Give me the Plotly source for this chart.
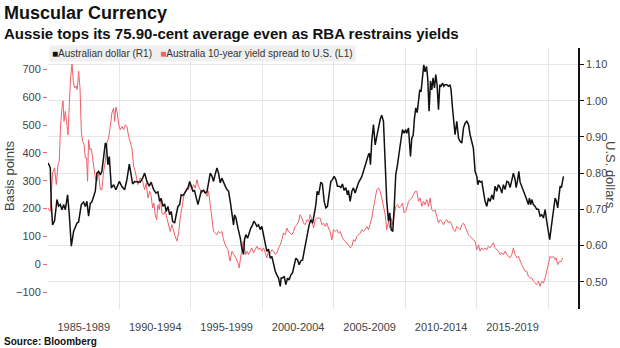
import plotly.graph_objects as go

# Australian dollar (US$), right axis
aud_years = [1985.02,1985.16,1985.23,1985.32,1985.46,1985.63,1985.74,1985.86,1985.98,1986.09,1986.21,1986.37,1986.49,1986.63,1986.79,
             1987.03,1987.14,1987.33,1987.49,1987.61,1987.72,1987.84,1987.96,1988.07,1988.31,1988.42,1988.54,1988.66,1988.77,1988.89,
             1989.01,1989.08,1989.19,1989.29,1989.43,1989.59,1989.75,1989.99,1990.17,1990.36,1990.52,1990.69,1990.83,1990.92,1991.06,
             1991.29,1991.45,1991.62,1991.76,1991.92,1992.08,1992.22,1992.39,1992.55,1992.69,1992.81,1992.92,1993.04,1993.16,1993.27,
             1993.39,1993.51,1993.62,1993.72,1993.86,1993.97,1994.09,1994.21,1994.32,1994.44,1994.55,1994.67,1994.79,1994.91,1995.02,
             1995.14,1995.25,1995.37,1995.49,1995.60,1995.72,1995.88,1996.00,1996.12,1996.23,1996.35,1996.47,1996.58,1996.70,1996.82,
             1996.93,1997.05,1997.16,1997.28,1997.40,1997.51,1997.63,1997.75,1997.87,1997.98,1998.05,1998.15,1998.29,1998.45,1998.56,
             1998.68,1998.75,1998.84,1998.96,1999.08,1999.19,1999.31,1999.40,1999.50,1999.61,1999.73,1999.85,1999.96,2000.08,2000.20,
             2000.31,2000.43,2000.55,2000.66,2000.78,2000.90,2001.01,2001.13,2001.25,2001.31,2001.41,2001.53,2001.64,2001.76,2001.87,
             2001.99,2002.11,2002.22,2002.34,2002.46,2002.57,2002.69,2002.81,2002.92,2003.04,2003.16,2003.27,2003.39,2003.51,2003.62,
             2003.74,2003.83,2003.93,2004.09,2004.20,2004.32,2004.44,2004.55,2004.67,2004.79,2004.90,2005.02,2005.14,2005.25,2005.37,
             2005.49,2005.60,2005.72,2005.84,2005.95,2006.02,2006.14,2006.26,2006.37,2006.49,2006.61,2006.72,2006.84,2006.96,2007.07,
             2007.19,2007.31,2007.42,2007.49,2007.56,2007.65,2007.77,2007.89,2008.00,2008.12,2008.24,2008.35,2008.47,2008.59,2008.70,
             2008.82,2008.91,2009.01,2009.12,2009.22,2009.33,2009.45,2009.57,2009.68,2009.80,2009.92,2010.03,2010.10,2010.22,2010.29,
             2010.36,2010.45,2010.55,2010.64,2010.73,2010.83,2010.92,2011.01,2011.10,2011.20,2011.29,2011.38,2011.48,2011.57,2011.66,
             2011.76,2011.85,2011.94,2012.04,2012.13,2012.22,2012.32,2012.41,2012.50,2012.60,2012.69,2012.78,2012.90,2013.02,2013.13,
             2013.20,2013.30,2013.39,2013.48,2013.60,2013.72,2013.83,2013.95,2014.07,2014.18,2014.30,2014.42,2014.53,2014.65,2014.76,
             2014.88,2015.00,2015.07,2015.16,2015.25,2015.35,2015.46,2015.58,2015.70,2015.81,2015.93,2016.05,2016.16,2016.28,2016.40,
             2016.51,2016.63,2016.75,2016.86,2016.98,2017.10,2017.21,2017.33,2017.45,2017.56,2017.68,2017.75,2017.84,2017.94,2018.03,
             2018.14,2018.26,2018.38,2018.49,2018.61,2018.68,2018.77,2018.84,2018.96,2019.08,2019.19,2019.31,2019.43,2019.54,2019.66,
             2019.78,2019.89,2020.01,2020.10,2020.20,2020.29,2020.38,2020.48,2020.57,2020.66,2020.76,2020.83,2020.92,2020.99,2021.06]
aud_values = [0.828,0.814,0.713,0.657,0.668,0.727,0.709,0.713,0.699,0.713,0.699,0.740,0.685,0.598,0.639,
              0.662,0.665,0.713,0.720,0.708,0.722,0.681,0.717,0.720,0.750,0.800,0.805,0.795,0.805,0.842,
              0.883,0.880,0.823,0.846,0.759,0.768,0.754,0.777,0.763,0.754,0.782,0.825,0.796,0.770,0.777,
              0.777,0.775,0.786,0.800,0.777,0.764,0.775,0.754,0.745,0.748,0.722,0.730,0.708,0.715,0.694,
              0.708,0.685,0.694,0.667,0.662,0.685,0.708,0.713,0.740,0.738,0.745,0.750,0.759,0.777,0.764,
              0.750,0.752,0.731,0.713,0.731,0.750,0.752,0.745,0.748,0.773,0.800,0.792,0.777,0.797,0.814,
              0.800,0.773,0.786,0.777,0.764,0.755,0.750,0.722,0.685,0.657,0.685,0.676,0.648,0.621,0.593,
              0.575,0.616,0.630,0.620,0.639,0.648,0.657,0.667,0.662,0.653,0.657,0.644,0.653,0.630,0.607,
              0.584,0.590,0.565,0.570,0.547,0.529,0.519,0.510,0.487,0.510,0.510,0.515,0.492,0.510,0.505,
              0.519,0.525,0.543,0.565,0.560,0.547,0.558,0.560,0.584,0.607,0.639,0.657,0.671,0.662,0.685,
              0.713,0.750,0.740,0.775,0.770,0.722,0.704,0.708,0.750,0.777,0.782,0.791,0.782,0.764,0.764,
              0.760,0.770,0.752,0.760,0.740,0.752,0.722,0.750,0.759,0.745,0.764,0.773,0.782,0.791,0.805,
              0.823,0.837,0.851,0.855,0.823,0.888,0.934,0.878,0.906,0.925,0.948,0.960,0.943,0.842,0.722,
              0.667,0.690,0.644,0.639,0.704,0.796,0.823,0.851,0.888,0.920,0.910,0.920,0.910,0.925,0.869,
              0.846,0.896,0.905,0.952,0.980,0.967,1.007,1.030,1.025,1.072,1.099,1.080,1.095,1.060,0.971,
              1.054,1.030,1.063,1.035,1.072,1.044,0.975,1.044,1.040,1.049,1.040,1.044,1.044,1.040,1.044,
              1.030,0.980,0.934,0.906,0.943,0.897,0.888,0.883,0.925,0.938,0.943,0.934,0.906,0.883,0.869,
              0.805,0.791,0.768,0.780,0.775,0.777,0.750,0.722,0.708,0.731,0.722,0.740,0.727,0.764,0.750,
              0.768,0.760,0.745,0.768,0.755,0.777,0.775,0.760,0.786,0.800,0.782,0.760,0.777,0.805,0.775,
              0.764,0.755,0.740,0.727,0.713,0.731,0.713,0.727,0.713,0.708,0.700,0.700,0.681,0.685,0.676,
              0.699,0.667,0.639,0.616,0.648,0.676,0.694,0.731,0.722,0.704,0.740,0.764,0.760,0.777,0.791]

# Australia 10-year yield spread to U.S. (bp), left axis
spread_years = [1985.00,1985.16,1985.32,1985.46,1985.58,1985.70,1985.79,1985.88,1985.98,1986.05,1986.12,1986.21,1986.30,1986.40,1986.49,
                1986.58,1986.68,1986.77,1986.86,1986.96,1987.05,1987.14,1987.24,1987.33,1987.42,1987.52,1987.61,1987.70,1987.77,1987.84,
                1987.93,1988.03,1988.12,1988.21,1988.31,1988.42,1988.54,1988.66,1988.77,1988.89,1989.01,1989.12,1989.24,1989.36,1989.47,
                1989.59,1989.66,1989.75,1989.85,1989.94,1990.06,1990.17,1990.29,1990.41,1990.52,1990.64,1990.76,1990.87,1990.99,1991.10,
                1991.29,1991.45,1991.62,1991.76,1991.87,1991.99,1992.11,1992.22,1992.32,1992.41,1992.50,1992.60,1992.69,1992.78,1992.88,
                1992.97,1993.09,1993.20,1993.32,1993.44,1993.55,1993.67,1993.79,1993.90,1994.02,1994.14,1994.25,1994.37,1994.48,1994.60,
                1994.72,1994.83,1994.95,1995.07,1995.18,1995.30,1995.42,1995.53,1995.65,1995.77,1995.88,1996.00,1996.12,1996.23,1996.35,
                1996.47,1996.58,1996.70,1996.82,1996.93,1997.05,1997.17,1997.28,1997.40,1997.59,1997.73,1997.87,1998.00,1998.15,1998.29,
                1998.38,1998.47,1998.56,1998.66,1998.75,1998.84,1998.94,1999.03,1999.15,1999.26,1999.38,1999.50,1999.61,1999.73,1999.85,
                1999.96,2000.08,2000.20,2000.31,2000.43,2000.55,2000.66,2000.78,2000.90,2001.01,2001.13,2001.25,2001.36,2001.48,2001.60,
                2001.71,2001.83,2001.94,2002.06,2002.18,2002.29,2002.41,2002.53,2002.64,2002.76,2002.88,2002.99,2003.11,2003.23,2003.34,
                2003.46,2003.58,2003.69,2003.83,2004.04,2004.16,2004.28,2004.39,2004.51,2004.62,2004.74,2004.86,2004.97,2005.09,2005.21,
                2005.32,2005.44,2005.56,2005.67,2005.79,2005.91,2006.02,2006.14,2006.26,2006.37,2006.49,2006.61,2006.72,2006.84,2006.96,
                2007.07,2007.19,2007.31,2007.42,2007.54,2007.65,2007.77,2007.89,2008.00,2008.12,2008.24,2008.35,2008.47,2008.59,2008.70,
                2008.82,2008.91,2009.01,2009.10,2009.22,2009.33,2009.45,2009.57,2009.68,2009.80,2009.92,2010.03,2010.10,2010.22,2010.34,
                2010.45,2010.57,2010.69,2010.80,2010.92,2011.04,2011.15,2011.27,2011.38,2011.50,2011.62,2011.73,2011.85,2011.97,2012.08,
                2012.20,2012.32,2012.43,2012.55,2012.67,2012.78,2012.90,2013.02,2013.13,2013.25,2013.37,2013.48,2013.60,2013.72,2013.83,
                2013.95,2014.07,2014.18,2014.30,2014.42,2014.53,2014.65,2014.76,2014.88,2015.00,2015.12,2015.23,2015.35,2015.46,2015.58,
                2015.70,2015.81,2015.93,2016.05,2016.16,2016.28,2016.42,2016.51,2016.63,2016.75,2016.86,2016.98,2017.10,2017.21,2017.33,
                2017.45,2017.56,2017.68,2017.80,2017.91,2018.03,2018.14,2018.26,2018.38,2018.49,2018.61,2018.73,2018.84,2018.96,2019.08,
                2019.19,2019.31,2019.43,2019.54,2019.66,2019.78,2019.89,2020.01,2020.13,2020.24,2020.36,2020.48,2020.55,2020.66,2020.78,
                2020.90,2021.01]
spread_values = [202,190,328,346,286,358,370,501,561,587,513,549,513,465,573,
                 669,719,657,633,640,627,693,633,477,442,430,382,382,298,447,
                 411,415,382,340,310,298,328,268,268,334,370,436,453,495,543,
                 561,513,564,543,501,483,495,483,501,495,460,436,418,352,334,
                 286,310,298,268,292,238,262,244,202,220,178,160,214,196,238,
                 184,178,190,166,142,118,142,118,100,83,112,166,214,238,262,
                 274,268,292,268,286,274,304,280,268,256,268,262,244,262,214,
                 166,118,112,106,118,112,118,88,70,52,11,47,35,23,5,
                 -13,23,52,83,59,35,47,35,47,59,41,52,65,52,59,
                 47,59,41,23,47,41,52,47,35,41,59,70,88,112,106,
                 130,118,112,106,118,136,142,154,178,166,148,142,160,154,178,
                 160,130,160,166,166,142,148,136,148,130,118,88,124,118,124,
                 112,118,100,88,83,77,70,59,65,88,83,100,106,112,124,
                 118,124,136,124,142,166,202,238,268,274,262,238,208,178,124,
                 154,130,166,142,172,208,214,202,208,220,184,190,202,226,232,
                 238,250,262,262,226,238,208,226,214,232,208,238,196,190,196,
                 172,148,160,154,142,154,160,148,154,142,124,118,136,130,124,
                 142,148,136,118,106,100,94,88,83,52,70,47,59,52,59,
                 52,65,59,70,77,59,52,47,35,41,35,47,35,29,23,
                 35,59,35,23,29,11,-1,-13,-25,-25,-43,-49,-49,-61,-67,
                 -73,-61,-79,-61,-67,-49,-25,11,29,23,29,17,23,-1,11,
                 9,23]

period_centers = [1987.5, 1992.5, 1997.5, 2002.5, 2007.5, 2012.5, 2017.5]
period_labels = ["1985-1989", "1990-1994", "1995-1999", "2000-2004", "2005-2009", "2010-2014", "2015-2019"]
left_ticks = [-100, 0, 100, 200, 300, 400, 500, 600, 700]
right_ticks = [0.5, 0.6, 0.7, 0.8, 0.9, 1.0, 1.1]

RED = "#f0606a"
GRID = "#e6e6e6"
FONT = "Liberation Sans, Arial, sans-serif"

fig = go.Figure()
fig.add_trace(go.Scatter(x=spread_years, y=spread_values, mode="lines",
                         line=dict(color=RED, width=1), yaxis="y", showlegend=False))
fig.add_trace(go.Scatter(x=aud_years, y=aud_values, mode="lines",
                         line=dict(color="#111111", width=1.5), yaxis="y2", showlegend=False))

fig.update_layout(
    width=620, height=348,
    margin=dict(l=48, r=42, t=48, b=39),
    paper_bgcolor="white", plot_bgcolor="white",
    font=dict(family=FONT, size=11, color="#444444"),
    xaxis=dict(range=[1985.0, 2022.08], tickmode="array", tickvals=period_centers, ticktext=period_labels,
               showgrid=False, zeroline=False, showline=False, ticks="", ticklabelstandoff=10,
               tickfont=dict(size=11, color="#444444"),
               minor=dict(tick0=1985, dtick=5, showgrid=True, gridcolor=GRID, gridwidth=1, ticks="")),
    yaxis=dict(range=[-160.4, 776.4], tickmode="array", tickvals=left_ticks,
               showgrid=False, zeroline=False, showline=False,
               ticks="outside", ticklen=4, tickcolor=RED, tickwidth=1,
               tickfont=dict(size=11, color="#444444")),
    yaxis2=dict(range=[0.4246, 1.1456], overlaying="y", side="right", tickmode="array", tickvals=right_ticks,
                tickformat=".2f", showgrid=True, gridcolor=GRID, gridwidth=1, zeroline=False,
                showline=True, linecolor="#111111", linewidth=1.5,
                ticks="outside", ticklen=4, tickcolor="#111111", tickwidth=1,
                tickfont=dict(size=11, color="#444444")),
)

W, H = 530.0, 261.0
def px(x): return (x - 48) / W
def py(y): return (309 - y) / H

fig.add_annotation(x=px(2), y=py(13), xref="paper", yref="paper", xanchor="left", yanchor="middle",
                   text="<b>Muscular Currency</b>", showarrow=False,
                   font=dict(family=FONT, size=18, color="#111111"))
fig.add_annotation(x=px(2), y=py(33.5), xref="paper", yref="paper", xanchor="left", yanchor="middle",
                   text="<b>Aussie tops its 75.90-cent average even as RBA restrains yields</b>", showarrow=False,
                   font=dict(family=FONT, size=15, color="#111111"))
fig.add_annotation(x=px(49), y=py(53.5), xref="paper", yref="paper", xanchor="left", yanchor="middle",
                   text="<span style='color:#111111'>■</span>Australian dollar (R1)   "
                        f"<span style='color:{RED}'>■</span>Australia 10-year yield spread to U.S. (L1)",
                   showarrow=False, bgcolor="#efefef", borderpad=2,
                   font=dict(family=FONT, size=10, color="#333333"))
fig.add_annotation(x=px(9), y=py(176), xref="paper", yref="paper", xanchor="center", yanchor="middle",
                   text="Basis points", textangle=-90, showarrow=False,
                   font=dict(family=FONT, size=13, color="#444444"))
fig.add_annotation(x=px(611), y=py(175), xref="paper", yref="paper", xanchor="center", yanchor="middle",
                   text="U.S. dollars", textangle=90, showarrow=False,
                   font=dict(family=FONT, size=13, color="#444444"))
fig.add_annotation(x=px(2), y=py(341.5), xref="paper", yref="paper", xanchor="left", yanchor="middle",
                   text="<b>Source: Bloomberg</b>", showarrow=False,
                   font=dict(family=FONT, size=10, color="#111111"))

fig.write_html("out.html")
